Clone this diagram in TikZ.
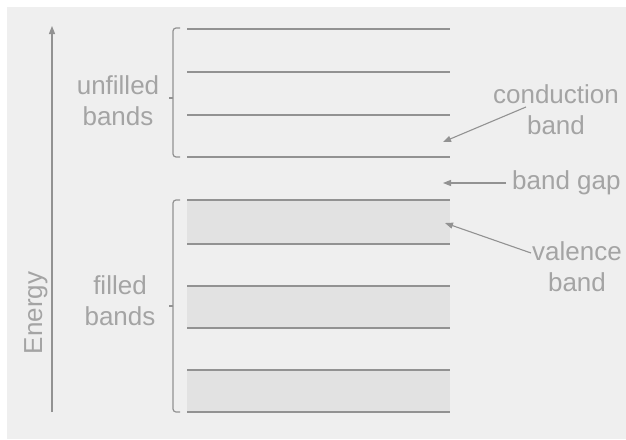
\documentclass[tikz,border=0pt]{standalone}
\usepackage{fontspec}
\setmainfont{Liberation Sans}
\usetikzlibrary{arrows.meta}
\definecolor{bg}{HTML}{EFEFEF}
\definecolor{ln}{HTML}{929292}
\definecolor{fillb}{HTML}{E2E2E2}
\definecolor{txt}{HTML}{A4A4A4}
\tikzset{
  level/.style={draw=ln, line width=1.3pt},
  bandfill/.style={fill=fillb, draw=none},
  brace/.style={draw=ln, line width=1.2pt, rounded corners=3pt},
  lbl/.style={text=txt, font=\fontsize{26}{31}\selectfont, align=center, inner sep=0pt},
  pointer/.style={draw=ln, line width=1.1pt, -{Triangle[length=8pt,width=6pt]}},
}
\begin{document}
\begin{tikzpicture}[x=1pt,y=-1pt]
\useasboundingbox (0,0) rectangle (626,439);
\fill[white] (0,0) rectangle (626,439);
\fill[bg] (7,7) rectangle (626,439);
% filled bands
\fill[bandfill] (187,200) rectangle (450,244);
\fill[bandfill] (187,286) rectangle (450,328);
\fill[bandfill] (187,370) rectangle (450,412);
% levels
\foreach \y in {29,72,115,157,200,244,286,328,370,412}
  \draw[level] (187,\y) -- (450,\y);
% brackets
\draw[brace] (180,28) -- (173,28) -- (173,157) -- (180,157);
\draw[draw=ln, line width=1.2pt] (173,98) -- (169,98);
\draw[brace] (180,200) -- (173,200) -- (173,412) -- (180,412);
\draw[draw=ln, line width=1.2pt] (173,306) -- (169,306);
% energy axis
\coordinate (ebot) at (52,412);
\coordinate (etop) at (52,26);
\draw[pointer, line width=1.2pt] (ebot) -- (etop);
\node[lbl, rotate=90] (energy) at (36,313) {Energy};
% left labels
\node[lbl] (unfilled) at (118,101) {unfilled\\bands};
\node[lbl] (filled) at (120,301) {filled\\bands};
% right labels
\node[lbl] (cond) at (556,110) {conduction\\band};
\node[lbl, anchor=west] (gap) at (512,183) {band gap};
\node[lbl] (val) at (577,267) {valence\\band};
\coordinate (ctip) at (443,142);
\coordinate (gtip) at (443,183);
\coordinate (vtip) at (445,223);
\draw[pointer] (526,107) -- (ctip);
\draw[pointer] (gap.west) ++(-6,0) -- (gtip);
\draw[pointer] (531,253) -- (vtip);
\end{tikzpicture}
\end{document}
